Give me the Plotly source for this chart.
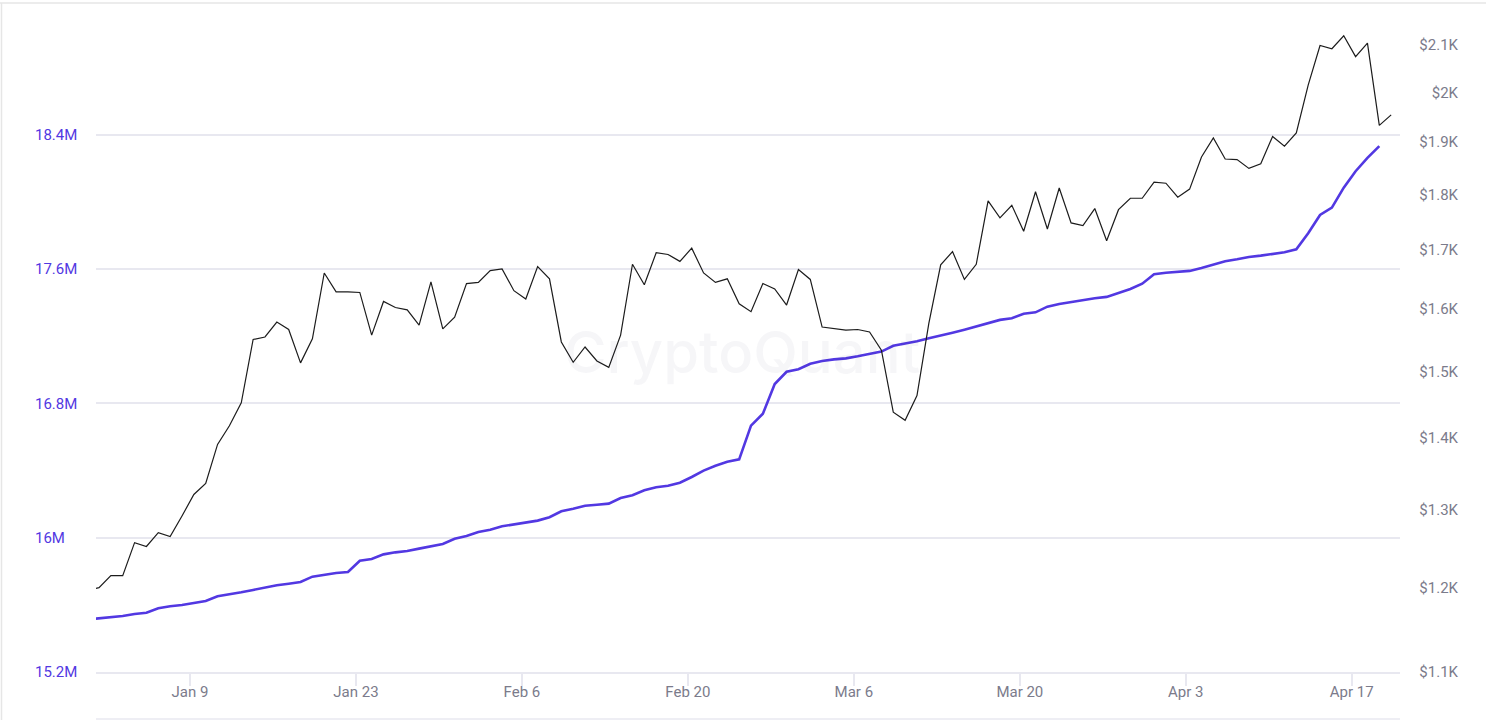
import pandas as pd
import plotly.graph_objects as go

W = 1486
H = 720

# daily points, the chart stamps them a bit after midnight
dates = pd.date_range("2022-12-31 07:46", periods=111, freq="D")

# USD
price = [1196, 1200, 1215, 1215, 1257, 1252, 1270, 1265, 1292, 1321, 1336, 1391, 1418, 1452, 1550,
         1554, 1578, 1566, 1513, 1551, 1660, 1628, 1628, 1627, 1557, 1612, 1602, 1598, 1573, 1645,
         1567, 1586, 1642, 1644, 1664, 1667, 1630, 1616, 1671, 1650, 1546, 1514, 1538, 1516, 1506,
         1557, 1675, 1640, 1695, 1692, 1680, 1703, 1660, 1644, 1650, 1608, 1595, 1642, 1633, 1606,
         1666, 1649, 1570, 1567, 1565, 1566, 1562, 1533, 1438, 1426, 1463, 1576, 1674, 1697, 1649,
         1675, 1788, 1757, 1780, 1733, 1805, 1737, 1812, 1748, 1743, 1774, 1716, 1772, 1793, 1793,
         1823, 1821, 1795, 1810, 1871, 1908, 1867, 1866, 1849, 1858, 1911, 1892, 1918, 2015, 2099,
         2092, 2120, 2075, 2104, 1933, 1954]

# millions
supply = [15.513, 15.520, 15.528, 15.534, 15.546, 15.553, 15.580, 15.592, 15.599, 15.611, 15.623,
          15.651, 15.661, 15.675, 15.689, 15.705, 15.717, 15.726, 15.736, 15.768, 15.780, 15.790,
          15.796, 15.863, 15.873, 15.901, 15.913, 15.921, 15.935, 15.949, 15.963, 15.994, 16.010,
          16.034, 16.048, 16.068, 16.080, 16.090, 16.102, 16.122, 16.158, 16.173, 16.191, 16.197,
          16.203, 16.237, 16.253, 16.283, 16.301, 16.310, 16.328, 16.362, 16.400, 16.429, 16.453,
          16.467, 16.668, 16.739, 16.916, 16.989, 17.004, 17.037, 17.053, 17.063, 17.069, 17.081,
          17.095, 17.109, 17.144, 17.156, 17.171, 17.189, 17.204, 17.222, 17.240, 17.260, 17.282,
          17.298, 17.308, 17.335, 17.343, 17.377, 17.393, 17.405, 17.419, 17.427, 17.435, 17.458,
          17.482, 17.514, 17.570, 17.579, 17.585, 17.590, 17.607, 17.629, 17.647, 17.659, 17.673,
          17.681, 17.689, 17.701, 17.719, 17.814, 17.923, 17.967, 18.086, 18.184, 18.263, 18.333, None]

x_ticks = ["2023-01-09", "2023-01-23", "2023-02-06", "2023-02-20", "2023-03-06", "2023-03-20", "2023-04-03", "2023-04-17"]
x_labels = ["Jan 9", "Jan 23", "Feb 6", "Feb 20", "Mar 6", "Mar 20", "Apr 3", "Apr 17"]
left_ticks = [15.2, 16, 16.8, 17.6, 18.4]
left_labels = ["15.2M", "16M", "16.8M", "17.6M", "18.4M"]
right_ticks = [1100, 1200, 1300, 1400, 1500, 1600, 1700, 1800, 1900, 2000, 2100]
right_labels = ["$1.1K", "$1.2K", "$1.3K", "$1.4K", "$1.5K", "$1.6K", "$1.7K", "$1.8K", "$1.9K", "$2K", "$2.1K"]

BLUE = "#5238e2"
GRID = "#e8e8f0"
GRAY = "#7b7b8b"
FONT = "Roboto"


def px(x):
    return x / W


def py(y):
    return 1 - y / H


fig = go.Figure()
fig.add_trace(go.Scatter(x=dates, y=supply, yaxis="y", mode="lines", line=dict(color=BLUE, width=2.6)))
fig.add_trace(go.Scatter(x=dates, y=price, yaxis="y2", mode="lines", line=dict(color="#1c1c1c", width=1.2)))

fig.update_layout(
    width=W,
    height=H,
    margin=dict(l=0, r=0, t=0, b=0),
    paper_bgcolor="white",
    plot_bgcolor="white",
    showlegend=False,
    font=dict(family=FONT, size=15, color=GRAY),
    xaxis=dict(
        domain=[px(96), px(1400)],
        automargin=False,
        type="date",
        range=["2023-01-01 01:40", "2023-04-21 01:40"],
        tickmode="array",
        tickvals=x_ticks,
        ticktext=x_labels,
        ticks="outside",
        ticklen=12,
        tickwidth=1.5,
        tickcolor=GRID,
        showgrid=False,
        showline=True,
        linecolor=GRID,
        linewidth=1.5,
        ticklabelstandoff=-7,
        tickfont=dict(family=FONT, size=15, color=GRAY),
    ),
    yaxis=dict(
        domain=[py(672), py(20)],
        automargin=False,
        range=[15.2, 19.085],
        anchor="free",
        position=px(31),
        side="left",
        ticklabelposition="inside",
        ticklabeloverflow="allow",
        tickmode="array",
        tickvals=left_ticks,
        ticktext=left_labels,
        ticks="",
        showgrid=True,
        gridcolor=GRID,
        gridwidth=1.5,
        zeroline=False,
        showline=False,
        tickfont=dict(family=FONT, size=15, color=BLUE),
    ),
    yaxis2=dict(
        domain=[py(672), py(20)],
        automargin=False,
        type="log",
        range=[3.04139, 3.33342],
        overlaying="y",
        anchor="free",
        position=px(1461),
        side="right",
        ticklabelposition="inside",
        ticklabeloverflow="allow",
        tickmode="array",
        tickvals=right_ticks,
        ticktext=right_labels,
        ticks="",
        showgrid=False,
        zeroline=False,
        showline=False,
        tickfont=dict(family=FONT, size=15, color=GRAY),
    ),
    annotations=[
        dict(text="CryptoQuant", xref="paper", yref="paper", x=px(742), y=py(352), showarrow=False,
             font=dict(family="Inter", size=58, weight=500, color="rgba(40,40,90,0.045)"))
    ],
    shapes=[
        dict(type="line", xref="paper", yref="paper", x0=0, x1=1, y0=py(3), y1=py(3),
             line=dict(color="#e6e6e6", width=1.5)),
        dict(type="line", xref="paper", yref="paper", x0=px(1.5), x1=px(1.5), y0=py(3), y1=0,
             line=dict(color="#e6e6e6", width=1.5)),
        dict(type="line", xref="paper", yref="paper", x0=px(96), x1=px(1400), y0=py(719), y1=py(719),
             line=dict(color=GRID, width=1.5)),
    ],
)

# page has to be exactly the figure, no body margin or scroll
fig.write_html(
    "out.html",
    config={"displayModeBar": False},
    post_script="document.documentElement.style.overflow='hidden';"
                "document.body.style.margin='0';document.body.style.height='720px';document.body.style.overflow='hidden';",
)
